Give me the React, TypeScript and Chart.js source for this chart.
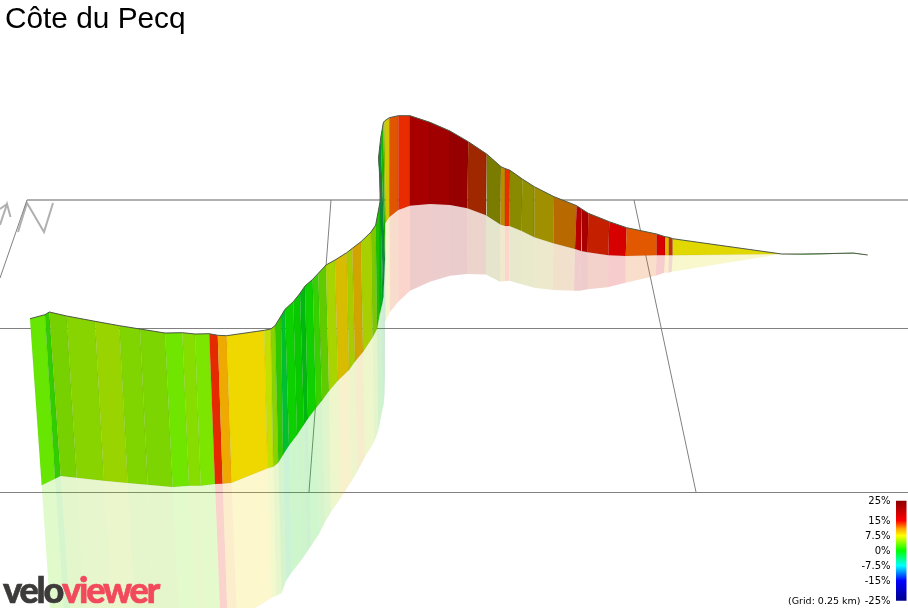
import {useEffect, useRef} from "react";
import {Chart, registerables} from "chart.js";

Chart.register(...registerables);

// ride title and gradient key
const title = "Côte du Pecq";
const gridNote = "(Grid: 0.25 km)";
const gradeTicks = [25, 15, 7.5, 0, -7.5, -15, -25];
const gradeLabels = ["25%", "15%", "7.5%", "0%", "-7.5%", "-15%", "-25%"];
const gradeStops = ["#8b0000", "#ff0000", "#ffa500", "#ffff00", "#00ff00", "#00ffff", "#0000ff", "#00008b"];

// profile stations in image pixels
const topX = [30, 45, 49.3, 66.7, 95, 119.3, 140, 165, 182.3, 195, 209.3, 217.7, 226.7, 264.3, 270.7, 275, 281, 285, 293.3, 300, 305, 312.7, 318.3, 326, 335, 346.7, 352.3, 361, 371, 375.7, 380, 381, 378.5, 380.7, 383.3, 384.5, 389.3, 398.3, 410, 430, 450, 468.3, 486.7, 501, 505, 510, 522.3, 534.3, 554, 576.7, 581.7, 588.3, 609.3, 626.7, 656.7, 665, 669, 672.7, 781.7, 802.7, 822.7, 853.3, 867.7];
const topY = [318.7, 314.7, 312, 316, 321.3, 325.7, 329, 333, 332.7, 334, 333.7, 335.3, 335.7, 330.3, 329, 325.7, 316, 309.3, 301.7, 293.3, 286, 279.3, 273.3, 265, 260, 252.7, 248.3, 241.7, 232, 225, 202, 183, 158, 138, 123, 121, 117.7, 115.7, 115.7, 122.3, 131, 141.7, 154, 166.7, 168.5, 170.3, 179, 186.7, 196.7, 205.7, 209, 213.3, 221.7, 227.7, 234, 236.7, 237.3, 238.7, 254, 254, 253.7, 253, 255];
const baseX = [41.7, 55, 60.7, 76.7, 104, 127.7, 147.7, 172.7, 189, 200.7, 215, 222.7, 231.7, 267.7, 273.3, 278.3, 283, 289, 297, 304, 308, 316, 322, 329, 338, 349, 355, 363, 372.5, 377, 380, 382, 383.5, 385, 385, 386, 389.5, 398.3, 410, 430, 450, 467.3, 486, 500.3, 505, 509.5, 521.7, 534.3, 553.3, 575, 581, 587.7, 608.3, 625.7, 656.7, 665, 669, 672.7, 781.7, 802.7, 822.7, 853.3, 867.7];
const baseY = [485.3, 478.7, 476, 477.7, 480.7, 483, 484.7, 487, 485.7, 485.7, 484, 483.7, 482.7, 468.3, 466.7, 462.7, 455, 445.5, 435, 424.5, 418.5, 408, 400.5, 391, 380.5, 370, 361.5, 352, 337.5, 329, 313, 305, 297, 260, 224, 222, 217, 210, 205.7, 204, 205, 208.3, 215.3, 224.5, 226, 226, 231, 237.3, 243.3, 249, 251, 252.3, 255.3, 256, 255.3, 255.3, 255.3, 255.3, 254, 254.6, 254.3, 253.6, 255];
const mirrorX = [53, 66, 72, 87, 113, 136, 155, 180, 196, 207, 221, 228, 237, 271, 276, 281.7, 286, 292, 300, 307, 311, 319, 325, 331, 340, 351, 357, 365, 374, 378, 381.7, 383.5, 384.5, 385, 385, 386, 390, 398.3, 410, 430, 450, 467, 486, 500, 505, 509.3, 521.7, 534.3, 552.7, 574, 580, 587.7, 607.7, 625.7, 655.7, 664.3, 668.3, 671.7, 781.7, 802.7, 822.7, 853.3, 867.7];
const mirrorY = [652, 643, 640, 640, 640, 640, 640, 641, 639, 637, 634, 632, 620, 598, 596, 593, 581, 572, 562, 552, 546, 534, 522, 512, 499, 482, 472, 457, 442, 432, 413, 405, 395, 375, 322, 320, 312, 301.7, 290.7, 281.7, 275.7, 274, 274.5, 281.7, 281, 280.7, 284.3, 287.7, 290, 290.7, 290.7, 289.3, 287.3, 282.7, 275.7, 272.7, 272.7, 271.7, 254, 254.6, 254.3, 253.6, 255];

// shaded gradient colour of each band between two stations
const bandColors = [
  "#66e600", "#33cc00", "#77d000", "#88d400", "#99d400", "#80d400", "#7cd400", "#70e600", "#88dd00", "#7ce600",
  "#e62a00", "#eeaa00", "#eed800", "#c4e000", "#88d400", "#30c800", "#00c030", "#0cd000", "#0ac800", "#00b810",
  "#10d000", "#38cf00", "#60cc00", "#a8d400", "#d8bc00", "#a8cc00", "#d2a400", "#a8d000", "#7cc800", "#20c000",
  "#00bb10", "#0a9a30", "#108a40", "#18b800", "#88c000", "#d2c800", "#e05500", "#e92c00", "#a80000", "#a00000",
  "#960000", "#a02800", "#7a7c00", "#c08a00", "#e83000", "#8a8a00", "#909000", "#a09000", "#b86a00", "#b80000",
  "#a80000", "#c42000", "#d60000", "#e25800", "#d80000", "#e8b000", "#c03010", "#e0d800", "#22aa00", "#22aa00",
  "#22aa00", "#22aa00",
];

// ground grid: [x, y] polylines
const lightGrid = [
  [[27, 200], [908, 200]],
  [[18, 232], [27, 203], [44, 232], [53, 203]],
  [[0, 225], [7, 204], [10.5, 217]],
  [[0, 209], [7, 204]],
];
const darkGrid = [
  [[0, 328.5], [908, 328.5]],
  [[0, 492.5], [908, 492.5]],
  [[331, 200], [309, 492]],
  [[634, 200], [696, 492]],
  [[0, 278], [27, 200]],
];

const keyX = [896, 906.5, 906.5, 896, 896];
const keyY = [500.7, 500.7, 600.7, 600.7, 500.7];
const keyZero = 551.5;
const keyPxPerGrade = 2;

const toPoints = (xs: number[], ys: number[]) => xs.map((x, i) => ({x, y: ys[i]}));

const polylineDataset = (pts: number[][], color: string, width: number) => ({
  data: pts.map(([x, y]) => ({x, y})),
  showLine: true,
  fill: false,
  borderColor: color,
  borderWidth: width,
  pointRadius: 0,
  tension: 0,
});

const polygonDataset = (pts: {x: number; y: number}[], color: string, edge: string) => ({
  data: [...pts, pts[0]],
  showLine: true,
  fill: "shape",
  backgroundColor: color,
  borderColor: edge,
  borderWidth: 1,
  pointRadius: 0,
  tension: 0,
});

const buildDatasets = () => {
  const list: any[] = [];
  lightGrid.forEach((l) => list.push(polylineDataset(l, "#b0b0b0", 2)));
  darkGrid.forEach((l) => list.push(polylineDataset(l, "#808080", 1)));
  // reflection under the profile, then the wall itself
  bandColors.forEach((c, i) => {
    list.push(
      polygonDataset(
        [
          {x: baseX[i], y: baseY[i]},
          {x: baseX[i + 1], y: baseY[i + 1]},
          {x: mirrorX[i + 1], y: mirrorY[i + 1]},
          {x: mirrorX[i], y: mirrorY[i]},
        ],
        c + "33",
        "rgba(0,0,0,0)",
      ),
    );
  });
  bandColors.forEach((c, i) => {
    list.push(
      polygonDataset(
        [
          {x: topX[i], y: topY[i]},
          {x: topX[i + 1], y: topY[i + 1]},
          {x: baseX[i + 1], y: baseY[i + 1]},
          {x: baseX[i], y: baseY[i]},
        ],
        c,
        "rgba(0,0,0,0.04)",
      ),
    );
  });
  list.push({
    ...polylineDataset([], "#4f5a45", 1),
    data: toPoints(topX, topY),
  });
  // gradient key bar
  list.push({
    ...polygonDataset(toPoints(keyX, keyY).slice(0, 4), "#000", "rgba(0,0,0,0)"),
    backgroundColor: (ctx: any) => {
      const g = ctx.chart.ctx.createLinearGradient(0, keyY[0], 0, keyY[2]);
      const stops = [0, 0.2, 0.28, 0.35, 0.5, 0.65, 0.8, 1];
      gradeStops.forEach((c, i) => g.addColorStop(stops[i], c));
      return g;
    },
  });
  // chart.js paints the first dataset last
  return list.reverse();
};

const textPlugin = {
  id: "pageText",
  afterDraw(chart: any) {
    const {ctx, scales} = chart;
    ctx.save();
    ctx.textBaseline = "alphabetic";
    ctx.textAlign = "left";
    ctx.fillStyle = "#000";
    ctx.font = '29.8px "Liberation Sans"';
    ctx.fillText(title, 5, 28);

    ctx.font = '10px "DejaVu Sans"';
    ctx.textAlign = "right";
    ctx.textBaseline = "middle";
    gradeTicks.forEach((g, i) => {
      const y = scales.y.getPixelForValue(keyZero - g * keyPxPerGrade);
      ctx.fillText(gradeLabels[i], 890.5, y);
    });
    ctx.font = '9.5px "DejaVu Sans"';
    ctx.fillText(gridNote, 860.5, scales.y.getPixelForValue(keyZero + 25 * keyPxPerGrade));

    // site mark
    ctx.textAlign = "left";
    ctx.textBaseline = "alphabetic";
    ctx.font = "900 36px Lato";
    ctx.letterSpacing = "-2.2px";
    ctx.lineWidth = 0.6;
    ctx.fillStyle = ctx.strokeStyle = "#3d3a3a";
    ctx.fillText("velo", 3, 603);
    ctx.strokeText("velo", 3, 603);
    const w = ctx.measureText("velo").width;
    ctx.fillStyle = ctx.strokeStyle = "#f2495c";
    ctx.fillText("viewer", 3 + w, 603);
    ctx.strokeText("viewer", 3 + w, 603);
    ctx.restore();
  },
};

const App = () => {
  const canvasRef = useRef<HTMLCanvasElement | null>(null);

  useEffect(() => {
    document.body.style.margin = "0";
    const canvas = canvasRef.current;
    if (!canvas) return;
    const chart = new Chart(canvas, {
      type: "scatter",
      data: {datasets: buildDatasets()},
      options: {
        responsive: false,
        animation: false,
        events: [],
        layout: {padding: 0},
        plugins: {legend: {display: false}, tooltip: {enabled: false}},
        scales: {
          x: {type: "linear", min: 0, max: 908, display: false},
          y: {type: "linear", min: 0, max: 608, reverse: true, display: false},
        },
      },
      plugins: [textPlugin],
    } as any);
    return () => chart.destroy();
  }, []);

  return (
    <div style={{width: 908, height: 608, background: "#fff"}}>
      <canvas ref={canvasRef} width={908} height={608} style={{display: "block"}}></canvas>
    </div>
  );
};

export default App;
